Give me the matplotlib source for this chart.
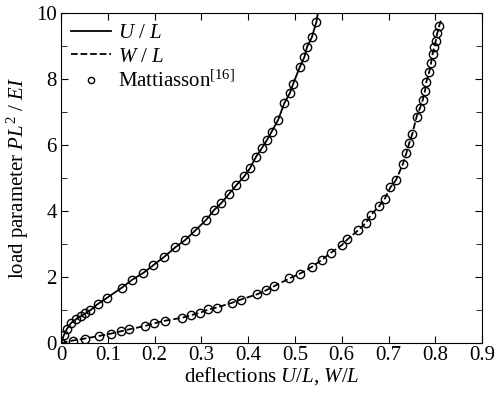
import numpy as np
import matplotlib.pyplot as plt
from matplotlib.ticker import MultipleLocator

plt.rcParams['font.family'] = 'Liberation Serif'
plt.rcParams['mathtext.fontset'] = 'custom'
plt.rcParams['mathtext.rm'] = 'Liberation Serif'
plt.rcParams['mathtext.it'] = 'Liberation Serif:italic'

u_line = [0, 0.006, 0.013, 0.022, 0.032, 0.043, 0.052, 0.063, 0.078, 0.098, 0.13, 0.151,
          0.176, 0.197, 0.221, 0.244, 0.265, 0.286, 0.31, 0.327, 0.343, 0.359, 0.375, 0.392,
          0.404, 0.417, 0.429, 0.44, 0.45, 0.464, 0.477, 0.489, 0.496, 0.51, 0.52, 0.526,
          0.536, 0.546, 0.549]
p_u_line = [0, 0.24, 0.44, 0.62, 0.72, 0.82, 0.9, 1.0, 1.18, 1.37, 1.68, 1.91,
            2.13, 2.36, 2.62, 2.9, 3.12, 3.4, 3.73, 4.03, 4.25, 4.52, 4.79, 5.06,
            5.3, 5.65, 5.9, 6.15, 6.4, 6.76, 7.26, 7.57, 7.85, 8.35, 8.66, 8.98,
            9.26, 9.74, 10.0]

w_line = [0, 0.025, 0.051, 0.082, 0.107, 0.128, 0.146, 0.179, 0.199, 0.222, 0.259, 0.278,
          0.297, 0.315, 0.333, 0.365, 0.384, 0.419, 0.438, 0.456, 0.488, 0.511, 0.536,
          0.557, 0.577, 0.6, 0.612, 0.635, 0.652, 0.662, 0.68, 0.692, 0.704, 0.716, 0.731,
          0.738, 0.744, 0.751, 0.76, 0.767, 0.773, 0.778, 0.781, 0.787, 0.791, 0.794,
          0.798, 0.801, 0.804, 0.808, 0.814]
p_w_line = [0, 0.08, 0.14, 0.22, 0.29, 0.36, 0.42, 0.52, 0.6, 0.68, 0.77, 0.85,
            0.92, 1.02, 1.08, 1.22, 1.32, 1.48, 1.6, 1.73, 1.96, 2.11, 2.31,
            2.52, 2.74, 2.97, 3.14, 3.42, 3.65, 3.88, 4.15, 4.38, 4.72, 4.94, 5.44,
            5.75, 6.05, 6.35, 6.86, 7.11, 7.36, 7.65, 7.92, 8.22, 8.49, 8.75,
            8.98, 9.16, 9.38, 9.6, 9.85]

# Mattiasson [16] reference points
matt_u = u_line[:-1]
matt_pu = p_u_line[:-1]
matt_w = w_line[:-1]
matt_pw = p_w_line[:-1]

fig = plt.figure(figsize=(4.96, 3.94), dpi=100)
ax = fig.add_axes([0.123, 0.129, 0.849, 0.838])

ax.plot(u_line, p_u_line, 'k-', lw=1.3, label='$U$ / $L$')
ax.plot(w_line, p_w_line, 'k--', lw=1.3, label='$W$ / $L$')
ax.plot(matt_u + matt_w, matt_pu + matt_pw, 'o', ls='none', mfc='none', mec='k',
        ms=6, mew=1.0, label='Mattiasson$^{[16]}$')

ax.set_xlim(0, 0.9)
ax.set_ylim(0, 10)
ax.yaxis.set_major_locator(MultipleLocator(2))
ax.yaxis.set_minor_locator(MultipleLocator(1))
ax.set_xticks(np.arange(0, 0.95, 0.1))
ax.set_xticklabels(['0', '0.1', '0.2', '0.3', '0.4', '0.5', '0.6', '0.7', '0.8', '0.9'])
ax.tick_params(which='both', direction='in', top=True, right=True, labelsize=15)
ax.tick_params(which='major', length=5)
ax.tick_params(which='minor', length=4)
ax.tick_params(axis='x', pad=2)
ax.tick_params(axis='y', pad=3)

ax.set_xlabel('deflections $U/L$, $W/L$', fontsize=15, labelpad=0)
ax.set_ylabel('load parameter $PL^2$ / $EI$', fontsize=15, labelpad=4)

ax.legend(loc='upper left', frameon=False, fontsize=15, handlelength=1.9,
          handletextpad=0.35, labelspacing=0.2, borderaxespad=0.1, markerscale=0.75)

fig.savefig('out.png', dpi=100)
